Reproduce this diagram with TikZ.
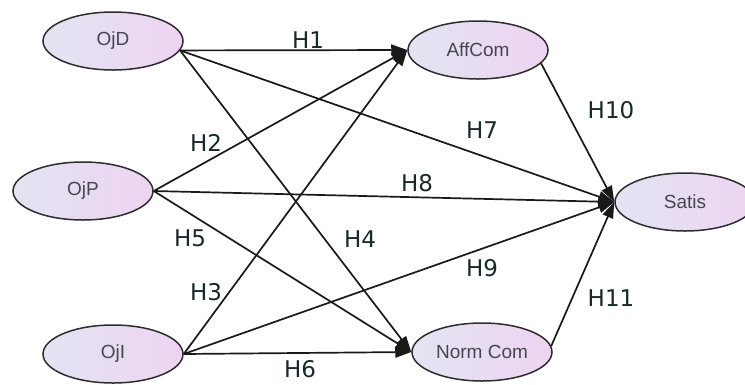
\documentclass[tikz,border=0pt]{standalone}
\usepackage{fontspec}
\setmainfont{Liberation Sans}
\newfontfamily\hfont{DejaVu Sans}
\usetikzlibrary{arrows.meta,shapes.geometric}

\definecolor{rimgray}{RGB}{45,45,45}
\definecolor{txtgray}{RGB}{70,70,80}
\definecolor{hypcol}{RGB}{25,40,40}
\definecolor{fillleft}{RGB}{226,228,242}
\definecolor{fillright}{RGB}{238,212,242}

\begin{document}
\begin{tikzpicture}[x=1pt,y=-1pt,
    construct/.style={ellipse,draw=rimgray,line width=1.5pt,
      left color=fillleft,right color=fillright,
      minimum width=140pt,minimum height=58pt,inner sep=0pt,
      text=txtgray,font=\fontsize{19}{19}\selectfont},
    path/.style={line width=1.7pt,draw=black!90,
      -{Triangle[length=16pt,width=11pt]}},
    hyp/.style={text=hypcol,font=\hfont\fontsize{23}{23}\selectfont}]
  \useasboundingbox (0,0) rectangle (745,384);
  % constructs
  \node[construct] (ojd) at (113,41) {OjD};
  \node[construct] (ojp) at (83,191) {OjP};
  \node[construct] (oji) at (113,354) {OjI};
  \node[construct] (aff) at (478,50) {AffCom};
  \node[construct] (norm) at (482,352) {Norm Com};
  \node[construct] (sat) at (685,202) {Satis};
  % paths
  \draw[path] (ojd.-8) -- (aff.west);
  \draw[path] (ojd.-8) -- (sat.west);
  \draw[path] (ojd.-8) -- (norm.west);
  \draw[path] (ojp.east) -- (aff.west);
  \draw[path] (ojp.east) -- (sat.west);
  \draw[path] (ojp.east) -- (norm.west);
  \draw[path] (oji.east) -- (aff.west);
  \draw[path] (oji.east) -- (sat.west);
  \draw[path] (oji.east) -- (norm.west);
  \draw[path] (aff.-12) -- (sat.west);
  \draw[path] (norm.5) -- (sat.west);
  % hypotheses
  \node[hyp] (h1) at (308,40) {H1};
  \node[hyp] (h2) at (206,143) {H2};
  \node[hyp] (h3) at (206,292) {H3};
  \node[hyp] (h4) at (360,239) {H4};
  \node[hyp] (h5) at (190,238) {H5};
  \node[hyp] (h6) at (300,369) {H6};
  \node[hyp] (h7) at (482,130) {H7};
  \node[hyp] (h8) at (417,183) {H8};
  \node[hyp] (h9) at (482,268) {H9};
  \node[hyp] (h10) at (611,110) {H10};
  \node[hyp] (h11) at (611,298) {H11};
\end{tikzpicture}
\end{document}
